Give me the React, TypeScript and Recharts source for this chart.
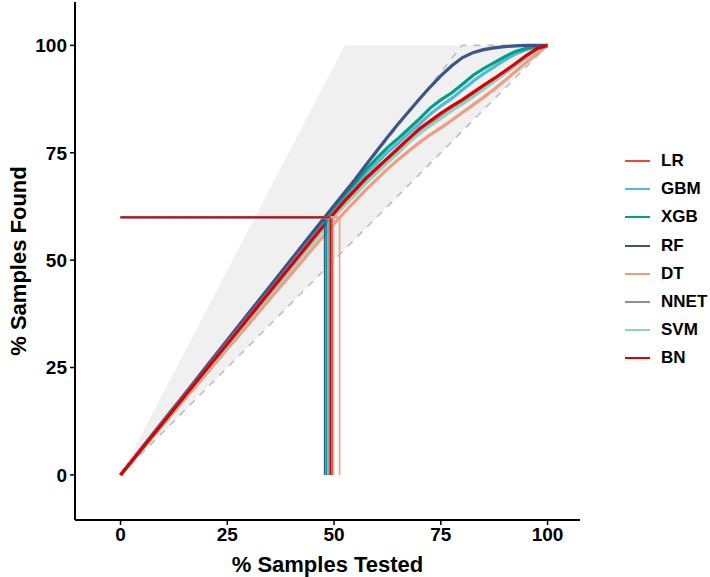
import React from "react";
import { ComposedChart, Line, Area, XAxis, YAxis, Label } from "recharts";

const MODELS = ["LR", "GBM", "XGB", "RF", "DT", "NNET", "SVM", "BN"];
const COLORS = ["#E64B35", "#4DBBD5", "#00A087", "#3C5488", "#F39B7F", "#8491B4", "#91D1C2", "#DC0000"];

// % samples tested
const X_PCT = [0, 5, 10, 15, 20, 25, 30, 35, 40, 45, 50, 52.5, 55, 57.5, 60, 62.5, 65, 67.5, 70, 72.5, 75, 77.5, 80, 82.5, 85, 87.5, 90, 92.5, 95, 97.5, 100];

// % samples found, per model
const LR = [0, 6.0, 12.1, 18.1, 24.2, 30.2, 36.3, 42.3, 48.4, 54.4, 60.4, 63.1, 65.6, 68.2, 70.5, 72.9, 75.2, 77.6, 79.7, 81.9, 83.6, 85.2, 86.6, 88.3, 90.0, 91.8, 93.6, 95.4, 97.2, 98.9, 100];
const GBM = [0, 6.2, 12.3, 18.5, 24.7, 30.9, 37.0, 43.2, 49.4, 55.6, 61.6, 64.5, 67.3, 70.2, 72.6, 75.1, 77.2, 79.5, 81.7, 84.0, 85.9, 87.6, 89.6, 91.6, 93.4, 95.0, 96.6, 98.0, 99.0, 99.7, 100];
const XGB = [0, 6.2, 12.4, 18.7, 24.9, 31.1, 37.3, 43.6, 49.8, 56.0, 62.2, 65.2, 68.1, 71.1, 73.7, 76.2, 78.3, 80.6, 82.9, 85.4, 87.3, 88.9, 90.9, 93.0, 94.6, 96.0, 97.4, 98.6, 99.3, 99.8, 100];
const RF = [0, 6.3, 12.6, 18.8, 25.1, 31.4, 37.7, 43.9, 50.2, 56.5, 62.7, 65.8, 68.9, 72.2, 75.4, 78.6, 81.7, 84.6, 87.5, 90.3, 92.9, 95.2, 97.1, 98.3, 99.0, 99.4, 99.7, 99.9, 100, 100, 100];
const DT = [0, 5.9, 11.7, 17.6, 23.4, 29.3, 35.1, 41.0, 46.8, 52.7, 58.5, 61.2, 63.8, 66.4, 68.8, 71.2, 73.4, 75.4, 77.4, 79.2, 80.8, 82.5, 84.3, 86.1, 87.9, 89.8, 91.8, 93.9, 96.0, 98.0, 100];
const NNET = [0, 6.1, 12.3, 18.4, 24.5, 30.7, 36.8, 42.9, 49.1, 55.2, 61.2, 64.0, 66.4, 69.0, 71.2, 73.6, 75.8, 78.3, 80.2, 82.3, 84.0, 85.6, 87.0, 88.7, 90.3, 92.1, 93.8, 95.6, 97.4, 99.0, 100];
const SVM = [0, 6.0, 12.0, 18.0, 24.0, 30.0, 36.0, 42.0, 48.0, 54.0, 60.1, 62.8, 65.3, 68.0, 70.3, 72.7, 74.9, 77.4, 79.5, 81.3, 83.0, 84.8, 86.3, 88.0, 89.8, 91.6, 93.4, 95.3, 97.2, 98.8, 100];
const BN = [0, 6.1, 12.2, 18.3, 24.4, 30.5, 36.6, 42.7, 48.8, 54.9, 60.9, 63.8, 66.4, 69.1, 71.4, 73.7, 76.0, 78.3, 80.6, 82.4, 84.2, 85.8, 87.3, 89.0, 90.7, 92.3, 94.0, 95.8, 97.6, 99.2, 100];
const SERIES = [LR, GBM, XGB, RF, DT, NNET, SVM, BN];

// where each model reaches 60% found
const CUT_Y = 60;
const CUT_X = [49.6, 48.6, 48.2, 47.8, 51.3, 48.9, 49.9, 49.2];

// shaded band between perfect and random model
const BAND_X = [0, 52.5, 100];
const BAND_LOW = [0, 52.5, 100];
const BAND_HIGH = [0, 100, 100];

// dashed references
const BEST_X = [0, 80, 100];
const BEST_Y = [0, 100, 100];
const RANDOM_X = [0, 100];
const RANDOM_Y = [0, 100];

const TICKS = [0, 25, 50, 75, 100];

const FONT = "'Liberation Sans', Arial, Helvetica, sans-serif";

const bandData = BAND_X.map((x, i) => ({ x, band: [BAND_LOW[i], BAND_HIGH[i]] }));
const bestData = BEST_X.map((x, i) => ({ x, y: BEST_Y[i] }));
const randomData = RANDOM_X.map((x, i) => ({ x, y: RANDOM_Y[i] }));

const YTitle = (props: any) => {
  const { viewBox } = props;
  const cx = viewBox.x + 18;
  const cy = viewBox.y + viewBox.height / 2;
  return (
    <text
      x={cx}
      y={cy}
      transform={`rotate(-90 ${cx} ${cy})`}
      textAnchor="middle"
      dominantBaseline="central"
      fontFamily={FONT}
      fontWeight="bold"
      fontSize={22}
      fill="#000"
    >
      % Samples Found
    </text>
  );
};

const XTitle = (props: any) => {
  const { viewBox } = props;
  const cx = viewBox.x + viewBox.width / 2;
  const cy = viewBox.y + 44;
  return (
    <text
      x={cx}
      y={cy}
      textAnchor="middle"
      dominantBaseline="central"
      fontFamily={FONT}
      fontWeight="bold"
      fontSize={22}
      fill="#000"
    >
      % Samples Tested
    </text>
  );
};

export default function App() {
  const tick = { fill: "#000", fontSize: 19, fontWeight: "bold", fontFamily: FONT };
  return (
    <div style={{ position: "absolute", left: 0, top: 0, width: 710, height: 577, background: "#fff" }}>
      <ComposedChart width={710} height={577} margin={{ top: 2, right: 130, bottom: 0, left: 0 }}>
        <XAxis
          type="number"
          dataKey="x"
          domain={[-10.66, 107.6]}
          ticks={TICKS}
          allowDataOverflow
          height={57}
          tick={tick}
          tickSize={5}
          tickMargin={3}
          axisLine={{ stroke: "#000", strokeWidth: 2 }}
          tickLine={{ stroke: "#000", strokeWidth: 1.5 }}
        >
          <Label content={<XTitle />} />
        </XAxis>
        <YAxis
          type="number"
          dataKey="y"
          domain={[-10.5, 110.1]}
          ticks={TICKS}
          allowDataOverflow
          width={75}
          tick={tick}
          tickSize={5}
          tickMargin={3}
          axisLine={{ stroke: "#000", strokeWidth: 2 }}
          tickLine={{ stroke: "#000", strokeWidth: 1.5 }}
        >
          <Label content={<YTitle />} />
        </YAxis>

        <Area
          data={bandData}
          dataKey="band"
          type="linear"
          fill="#F0F0F0"
          fillOpacity={1}
          stroke="none"
          isAnimationActive={false}
        />
        <Line data={randomData} dataKey="y" type="linear" stroke="#BEBEBE" strokeWidth={1.6} strokeDasharray="7 7" dot={false} isAnimationActive={false} />
        <Line data={bestData} dataKey="y" type="linear" stroke="#BEBEBE" strokeWidth={1.6} strokeDasharray="7 7" dot={false} isAnimationActive={false} />

        {SERIES.map((vals, i) => (
          <Line
            key={MODELS[i]}
            data={X_PCT.map((x, j) => ({ x, y: vals[j] }))}
            dataKey="y"
            type="linear"
            stroke={COLORS[i]}
            strokeWidth={3.2}
            dot={false}
            isAnimationActive={false}
          />
        ))}

        {CUT_X.map((cx, i) => (
          <Line
            key={`v-${MODELS[i]}`}
            data={[{ x: cx, y: 0 }, { x: cx, y: CUT_Y }]}
            dataKey="y"
            type="linear"
            stroke={COLORS[i]}
            strokeWidth={1.6}
            dot={false}
            isAnimationActive={false}
          />
        ))}
        {CUT_X.map((cx, i) => (
          <Line
            key={`h-${MODELS[i]}`}
            data={[{ x: 0, y: CUT_Y }, { x: cx, y: CUT_Y }]}
            dataKey="y"
            type="linear"
            stroke={COLORS[i]}
            strokeWidth={2}
            dot={false}
            isAnimationActive={false}
          />
        ))}
      </ComposedChart>

      <div style={{ position: "absolute", left: 625, top: 0 }}>
        {MODELS.map((m, i) => (
          <div
            key={m}
            style={{ position: "absolute", left: 0, top: Math.round(161 + i * 28.2) - 10, height: 20, display: "flex", alignItems: "center", whiteSpace: "nowrap" }}
          >
            <span style={{ display: "inline-block", width: 25, height: 2, background: COLORS[i] }} />
            <span style={{ marginLeft: 11, fontFamily: FONT, fontWeight: "bold", fontSize: 17, color: "#000" }}>{m}</span>
          </div>
        ))}
      </div>
    </div>
  );
}
